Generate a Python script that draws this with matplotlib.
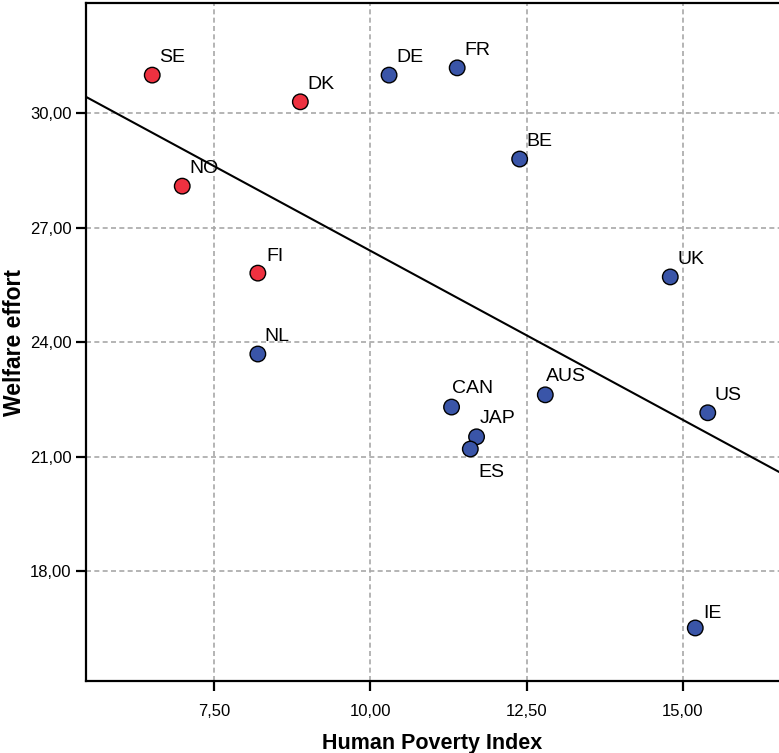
import numpy as np
import matplotlib.pyplot as plt

plt.rcParams['font.family'] = ['Liberation Sans', 'DejaVu Sans']

countries = ["SE", "DK", "NO", "FI", "NL", "DE", "FR", "BE", "UK", "CAN", "AUS", "US", "JAP", "ES", "IE"]
poverty = [6.51, 8.88, 6.99, 8.20, 8.20, 10.30, 11.39, 12.39, 14.80, 11.30, 12.80, 15.40, 11.70, 11.60, 15.20]
welfare = [31.00, 30.30, 28.09, 25.81, 23.69, 31.00, 31.19, 28.80, 25.71, 22.30, 22.62, 22.15, 21.52, 21.20, 16.51]
nordic = ["SE", "DK", "NO", "FI"]

# fit line as drawn in the reference (approx)
line_x = [5.45, 16.54]
line_y = [30.43, 20.60]

red = "#ee3140"
blue = "#3a55a8"

# label offsets in points, placed like the SPSS labels
offsets = {"CAN": (0.5, 10), "AUS": (0.5, 10), "JAP": (2, 10), "ES": (5.5, -20), "IE": (5.5, 7), "FI": (6, 9)}

fig = plt.figure(figsize=(7.79, 7.53), dpi=100)
ax = fig.add_axes([86 / 779, 1 - 681 / 753, (779 - 86) / 779, (681 - 3) / 753])

ax.grid(True, color="#a8a8a8", linestyle=(0, (3, 2)), linewidth=1.2)
ax.set_axisbelow(True)

ax.plot(line_x, line_y, color="black", linewidth=1.5, zorder=2)

colors = [red if c in nordic else blue for c in countries]
ax.scatter(poverty, welfare, s=125, c=colors, edgecolors="black", linewidths=1.0, zorder=3)

for c, x, y in zip(countries, poverty, welfare):
    off = offsets.get(c, (5, 9.5))
    ax.annotate(c, (x, y), xytext=off, textcoords="offset points",
                ha="left", va="baseline", fontsize=14, zorder=4)

ax.set_xlim(5.45, 16.54)
ax.set_ylim(15.12, 32.89)
ax.set_xticks([7.5, 10, 12.5, 15])
ax.set_xticklabels(["7,50", "10,00", "12,50", "15,00"])
ax.set_yticks([18, 21, 24, 27, 30])
ax.set_yticklabels(["18,00", "21,00", "24,00", "27,00", "30,00"])
ax.tick_params(direction="out", length=7.5, width=1.6, labelsize=12)
ax.tick_params(axis="x", pad=9)
ax.tick_params(axis="y", pad=3)

for s in ["left", "bottom", "top"]:
    ax.spines[s].set_linewidth(1.6)
ax.spines["right"].set_visible(False)

ax.set_xlabel("Human Poverty Index", fontsize=15.5, fontweight="bold", labelpad=10)
ax.set_ylabel("Welfare effort", fontsize=16.5, fontweight="bold", labelpad=3)

fig.savefig("out.png", dpi=100)
